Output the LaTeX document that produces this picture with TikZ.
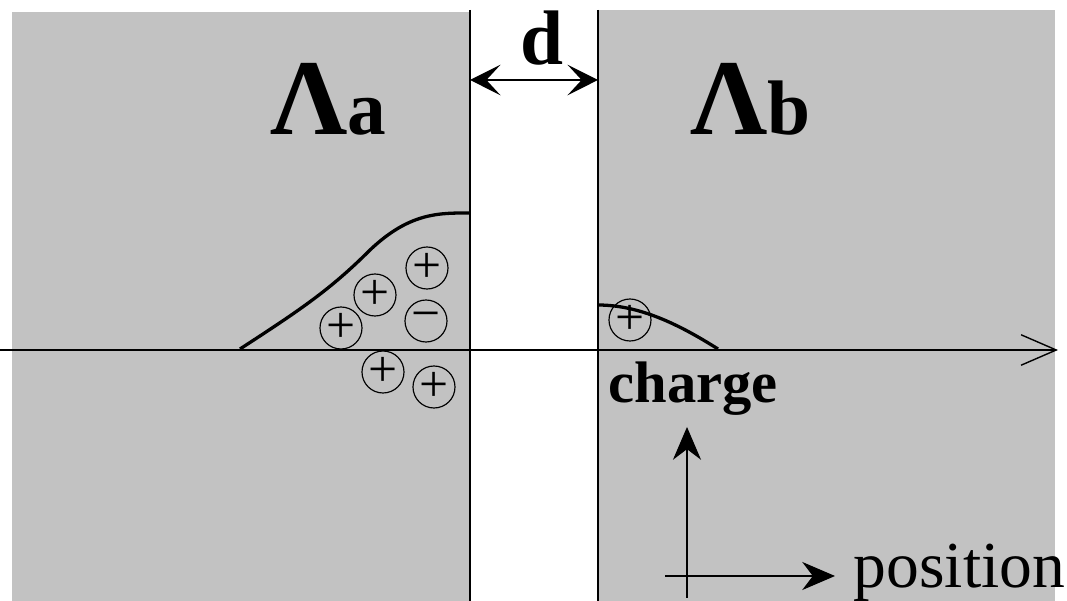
\documentclass[tikz,border=0pt]{standalone}
\usepackage{fontspec}
\setmainfont{Liberation Serif}
\usetikzlibrary{arrows.meta}

\begin{document}
\begin{tikzpicture}[
    x=0.015cm, y=-0.015cm,
    line width=0.6pt,
    slab/.style={
        fill=black!24,
        draw=none
    },
    ion/.style={
        draw,
        circle,
        line width=0.5pt,
        minimum size=42*0.015cm,
        inner sep=0pt,
        font=\fontsize{22}{22}\selectfont
    },
    density/.style={
        line width=1.4pt
    },
    lab/.style={
        inner sep=0pt,
        anchor=base west
    }
]

\useasboundingbox (0,0) rectangle (1067,601);

% =========================================================
% Two slabs and the gap d between them
% =========================================================
\fill[slab] (12,12) rectangle (470,601);
\fill[slab] (598,10) rectangle (1055,601);

\coordinate (gapl) at (470,80);
\coordinate (gapr) at (598,80);
\draw (470,10) -- (470,601);
\draw (598,10) -- (598,601);

\draw[{Stealth[length=13pt,width=13pt,inset=6pt]}-{Stealth[length=13pt,width=13pt,inset=6pt]}]
    (gapl) -- (gapr);
\node[lab,anchor=base,font=\bfseries\fontsize{33}{33}\selectfont] (d) at (542,65) {d};

\node[lab,font=\bfseries] (la) at (270,135)
    {\fontsize{46}{46}\selectfont Λ\fontsize{33}{33}\selectfont a};
\node[lab,font=\bfseries] (lb) at (690,135)
    {\fontsize{46}{46}\selectfont Λ\fontsize{33}{33}\selectfont b};

% =========================================================
% Axis and charge density
% =========================================================
\coordinate (ax0) at (0,350);
\coordinate (ax1) at (1058,350);
\draw[-{Straight Barb[length=15pt,width=13pt]}] (ax0) -- (ax1);

\draw[density] (240,349) .. controls (300,310) and (330,290) .. (370,250)
    .. controls (410,212) and (440,213) .. (470,213);
\draw[density] (598,305) .. controls (640,305) and (680,325) .. (718,349);

% ions
\node[ion] (p1) at (427,268) {+};
\node[ion] (p2) at (375,295) {+};
\node[ion] (p3) at (341,328) {+};
\node[ion] (m1) at (426,321) {−};
\node[ion] (p4) at (383,372) {+};
\node[ion] (p5) at (434,387) {+};
\node[ion] (p6) at (630,320) {+};

% =========================================================
% Legend axes
% =========================================================
\node[lab,font=\bfseries\fontsize{25}{25}\selectfont] (chg) at (608,403) {charge};
\node[lab,font=\fontsize{28}{28}\selectfont] (pos) at (853,588) {position};

\coordinate (o) at (687,576);
\draw[-{Stealth[length=14pt,width=12pt]}] (687,598) -- (687,427);
\draw[-{Stealth[length=14pt,width=12pt]}] (665,576) -- (835,576);

\end{tikzpicture}
\end{document}
